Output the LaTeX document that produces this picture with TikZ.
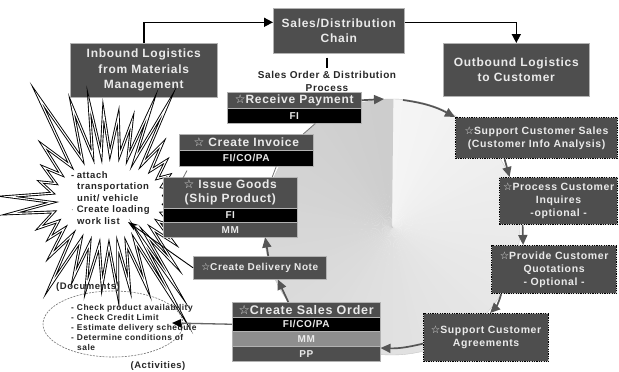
\documentclass[tikz,border=0pt]{standalone}
\usepackage{fontspec}
\setmainfont{Liberation Sans}[LetterSpace=6]
\newfontfamily\starglyphfont{DejaVu Sans}
\usetikzlibrary{arrows.meta,shapes.geometric}
\definecolor{boxgray}{HTML}{4E4E4E}
\definecolor{boxtext}{HTML}{EAEAEA}
\definecolor{midgray}{HTML}{8E8E8E}
\definecolor{cycgray}{HTML}{555555}
\newcommand\hstar{{\starglyphfont\char"2606}}
\begin{document}
\begin{tikzpicture}[x=1pt,y=-1pt,
  topbox/.style={anchor=north west, fill=boxgray, draw=black!30, line width=0.6pt, text=boxtext,
    font=\bfseries\fontsize{12}{15.5}\selectfont, align=center, inner sep=0pt},
  rowbase/.style={anchor=north west, draw=black!30, line width=0.5pt, text=boxtext, inner sep=0pt, align=center},
  rowtitle/.style={rowbase, fill=boxgray, font=\bfseries\fontsize{12}{14}\selectfont},
  rowblack/.style={rowbase, fill=black, font=\bfseries\fontsize{10}{11}\selectfont},
  rowdark/.style={rowbase, fill=boxgray, font=\bfseries\fontsize{10}{11}\selectfont},
  rowmid/.style={rowbase, fill=midgray, font=\bfseries\fontsize{10}{11}\selectfont},
  dotbox/.style={anchor=north west, fill=boxgray, draw=black!20, line width=1.2pt,
    postaction={draw=black, dash pattern=on 1.2pt off 1.2pt}, text=boxtext,
    font=\bfseries\fontsize{10.5}{13}\selectfont, align=center, inner sep=0pt},
  conn/.style={draw=black, line width=1.6pt, -{Triangle[length=9pt,width=9pt]}},
  cyc/.style={draw=cycgray, line width=1.7pt, -{Triangle[length=10pt,width=9pt]}},
  thinln/.style={draw=black!55, line width=0.8pt},
  burst/.style={draw=black, line width=0.9pt, double=white, double distance=1.1pt, fill=white,
    line join=miter, miter limit=40},
  note/.style={text=black!85, align=left, inner sep=0pt},
  lbl/.style={text=black!85, inner sep=0pt, font=\bfseries\fontsize{9.5}{11}\selectfont}
]
\useasboundingbox (0,0) rectangle (619,372);
\fill[white] (0,0) rectangle (619,372);

% conic-shaded process wheel
\coordinate (O) at (392,227);
\foreach \k in {0,...,71} {
  \pgfmathsetmacro\g{4+16*\k/72}
  \fill[black!\g] (O) -- +({270+5*\k}:128) arc[start angle={270+5*\k}, delta angle=5.6, radius=128] -- cycle;
}
\draw[black!22, line width=0.4pt] (O) circle[radius=128];

% top-level chain
\node[topbox, minimum width=147pt, minimum height=54pt] (ib) at (70,43) {Inbound Logistics\\from Materials\\Management};
\node[topbox, minimum width=131pt, minimum height=45pt] (sdc) at (273,8) {Sales/Distribution\\Chain};
\node[topbox, minimum width=146pt, minimum height=53pt] (ob) at (443,43) {Outbound Logistics\\to Customer};
\draw[conn] (ib.north) |- ([yshift=8.5pt]sdc.west);
\draw[conn] ([yshift=8.5pt]sdc.east) -| (ob.north);

\node[lbl, align=center, font=\bfseries\fontsize{10}{13}\selectfont] (sodp) at (327,81) {Sales Order \& Distribution\\Process};
\draw[black, line width=1.2pt, shorten <=4pt, shorten >=3pt] (sodp.north |- sdc.south) -- (sodp.north);

% starburst of documents
\begin{scope}[shift={(108,200)}]
\draw[burst] (0:62)
  \foreach \v/\a/\r in {5.5/11/65, 16.5/22/70, 27.5/33/78, 38.5/44/92, 48/52/108, 54.5/57/125,
    61.5/66/95, 71/76/88, 80/84/94, 89/94/85, 99/104/90, 109/114/84, 119/124/103, 130/136/80,
    141.5/147/70, 152.5/158/74, 165/172/98, 177/182/100, 188.5/195/70, 201/207/72, 213.5/220/85,
    228/236/125, 242.5/249/100, 254/259/99, 263/267/88, 272/277/84, 282/287/82, 291/295/101,
    298.5/302/112, 308/314/78, 320/326/70, 332/338/66, 343.5/349/62}
  { -- (\v:56 and 46) -- (\a:\r) } -- (354.5:56 and 46) -- cycle;
\end{scope}
\node[note, anchor=north west, font=\bfseries\fontsize{9.5}{11.5}\selectfont] (bt) at (71,171)
  {-\hspace{2.5pt}attach\\\hspace*{6pt}transportation\\\hspace*{6pt}unit/ vehicle\\$\cdot$\hspace{3pt}Create loading\\\hspace*{6pt}work list};
\coordinate (wl) at (128,222);

% activities ellipse
\node[draw=black!55, dash pattern=on 2pt off 1.2pt, line width=0.6pt, ellipse, minimum width=140pt, minimum height=66pt] (act) at (113,324) {};
\node[note, anchor=north west, font=\bfseries\fontsize{8.4}{10}\selectfont] (actt) at (71,304)
  {-\hspace{3pt}Check product availability\\-\hspace{3pt}Check Credit Limit\\-\hspace{3pt}Estimate delivery schedule\\-\hspace{3pt}Determine conditions of\\\hspace*{6pt}sale};
\coordinate (acttip) at (172,323);
\node[lbl] (docs) at (88,287) {(Documents)};
\node[lbl] (acts) at (158,366) {(Activities)};

% process steps, left side
\node[rowtitle, minimum width=134pt, minimum height=16pt] (rpt) at (227,92) {\hstar Receive Payment};
\node[rowblack, minimum width=134pt, minimum height=15pt] (rpf) at (227,108) {FI};
\node[rowtitle, minimum width=134pt, minimum height=16pt] (cit) at (179,134) {\hstar\ Create Invoice};
\node[rowblack, minimum width=134pt, minimum height=16pt] (cif) at (179,150) {FI/CO/PA};
\node[rowtitle, minimum width=134pt, minimum height=31pt] (igt) at (163,177) {\hstar\ Issue Goods\\(Ship Product)};
\node[rowblack, minimum width=134pt, minimum height=14pt] (igf) at (163,208) {FI};
\node[rowdark, minimum width=134pt, minimum height=15pt] (igm) at (163,222) {MM};
\node[rowtitle, minimum width=133pt, minimum height=23pt, font=\bfseries\fontsize{10}{12}\selectfont] (cdn) at (193,256) {\hstar Create Delivery Note};
\node[rowtitle, minimum width=148pt, minimum height=15pt, font=\bfseries\fontsize{12.5}{14}\selectfont] (csot) at (232,302) {\hstar Create Sales Order};
\node[rowblack, minimum width=148pt, minimum height=14pt] (csof) at (232,317) {FI/CO/PA};
\node[rowmid, minimum width=148pt, minimum height=15pt] (csom) at (232,331) {MM};
\node[rowdark, minimum width=148pt, minimum height=15pt] (csop) at (232,346) {PP};

% process steps, right side
\node[dotbox, minimum width=162pt, minimum height=41pt] (scs) at (455,117) {\hstar Support Customer Sales\\(Customer Info Analysis)};
\node[dotbox, minimum width=118pt, minimum height=47pt] (pci) at (499,177) {\hstar Process Customer\\Inquires\\-optional -};
\node[dotbox, minimum width=125pt, minimum height=48pt] (pcq) at (491,245) {\hstar Provide Customer\\Quotations\\- Optional -};
\node[dotbox, minimum width=125pt, minimum height=48pt] (sca) at (423,313) {\hstar Support Customer\\Agreements};

% cycle connectors
\coordinate (ctop1) at (384,99);
\coordinate (ctop2) at (403,100);
\draw[cyc] (rpt.east) -- (ctop1);
\draw[cyc] (ctop2) to[bend left=10] (scs.north west);
\draw[cyc] ([xshift=-32pt]scs.south) -- ([xshift=-49pt]pci.north);
\draw[cyc] ([xshift=-36pt]pci.south) -- ([xshift=-31pt]pcq.north);
\draw[cyc] ([xshift=-53pt]pcq.south) to[bend left=15] ([xshift=4pt]sca.north);
\draw[cyc] ([yshift=-6pt]sca.west) to[bend left=8] ([yshift=-2pt]csop.north east);
\draw[cyc] ([xshift=-18pt]csot.north) -- ([xshift=18pt]cdn.south);
\draw[cyc] ([xshift=8.5pt]cdn.north) -- ([xshift=35pt]igm.south);
\draw[thinln] ([xshift=42pt]igt.north) -- ([xshift=30pt]cif.south);
\draw[thinln] ([xshift=57pt]cit.north) -- ([xshift=21pt]rpf.south);
\draw[thinln] ([xshift=20pt,yshift=-1pt]igt.north west) -- ([xshift=8pt,yshift=-4pt]cif.south west);

% links to documents and activities
\draw[black, line width=0.9pt, -{Stealth[length=10pt,width=7pt]}] (cdn.west) -- (wl);
\draw[black!60, line width=1.3pt, -{Triangle[length=9pt,width=8pt,fill=black,color=black]}] (csof.west) -- (acttip);
\end{tikzpicture}
\end{document}
